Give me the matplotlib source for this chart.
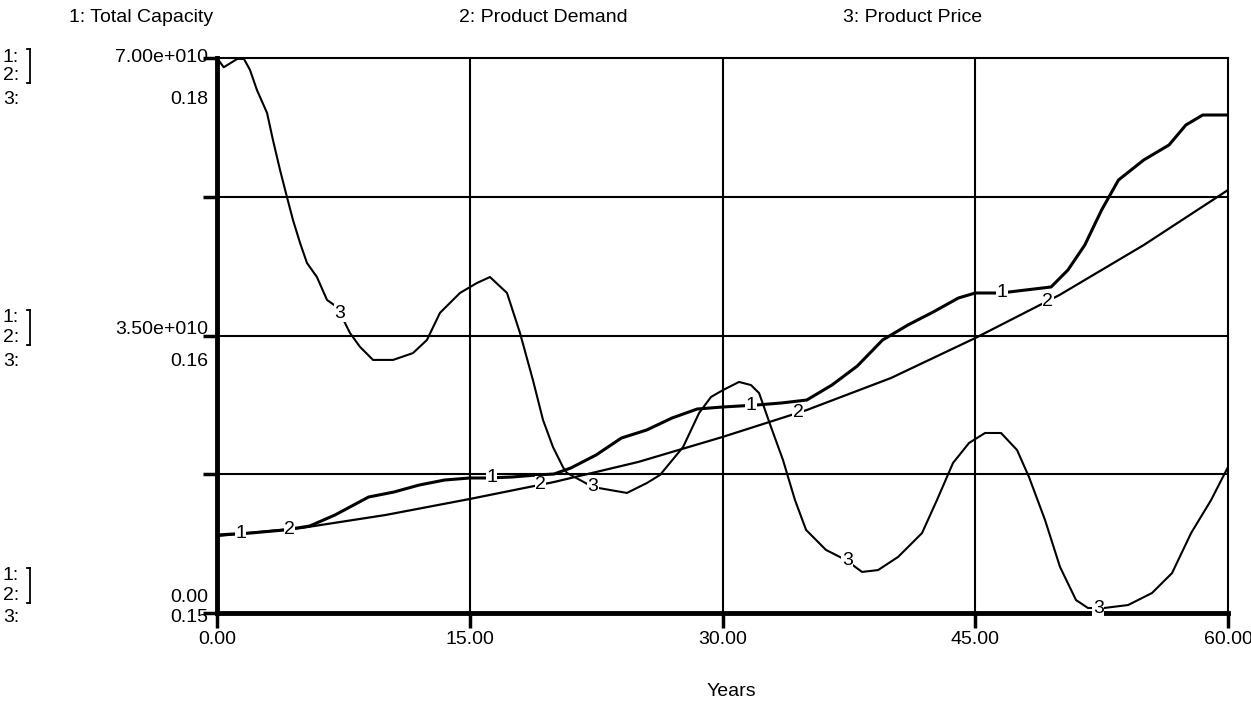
import numpy as np
import matplotlib.pyplot as plt
from matplotlib.lines import Line2D
from matplotlib.transforms import blended_transform_factory

plt.rcParams['font.family'] = ['Liberation Sans', 'DejaVu Sans']

# 1: Total Capacity (units of 1e10)
t_cap = [0, 2, 4, 5.5, 7, 9, 10.5, 12, 13.5, 15, 16, 17.5, 19, 20, 21, 22.5, 24,
         25.5, 27, 28.5, 30, 32, 33.5, 35, 36.5, 38, 39.5, 41, 42.5, 44, 45,
         46.5, 48, 49.5, 50.5, 51.5, 52.5, 53.5, 55, 56.5, 57.5, 58.5, 60]
capacity = [0.984, 1.009, 1.047, 1.097, 1.236, 1.463, 1.526, 1.614, 1.677, 1.703,
            1.703, 1.715, 1.741, 1.753, 1.829, 1.993, 2.207, 2.308, 2.459, 2.573,
            2.598, 2.623, 2.649, 2.686, 2.876, 3.115, 3.443, 3.632, 3.796, 3.973,
            4.036, 4.036, 4.074, 4.112, 4.326, 4.641, 5.083, 5.461, 5.714, 5.903,
            6.155, 6.281, 6.281]

# 2: Product Demand (units of 1e10)
t_dem = [0, 5, 10, 15, 20, 25, 30, 35, 40, 45, 50, 55, 60]
demand = [0.971, 1.072, 1.236, 1.438, 1.652, 1.905, 2.220, 2.560, 2.964, 3.468,
          4.011, 4.641, 5.335]

# 3: Product Price
t_price = [0, 0.4, 1.2, 1.6, 1.96, 2.37, 2.97, 3.32, 3.74, 4.15, 4.51, 4.93, 5.34,
           5.93, 6.53, 7.12, 7.89, 8.49, 9.26, 10.45, 11.63, 12.46, 13.23, 14.42,
           15.43, 16.2, 17.21, 17.98, 18.75, 19.35, 19.94, 20.53, 20.77, 22.31,
           24.33, 25.52, 26.29, 27.66, 28.61, 29.32, 30.03, 30.98, 31.69, 32.17,
           32.88, 33.59, 34.3, 34.96, 36.14, 37.33, 38.28, 39.23, 40.42, 41.84,
           42.73, 43.68, 44.63, 45.58, 46.53, 47.48, 48.19, 49.14, 50.03, 50.98,
           51.69, 52.64, 54.07, 55.49, 56.68, 57.81, 59.0, 60]
price = [0.1800, 0.1795, 0.17995, 0.17995, 0.17935, 0.17827, 0.17703, 0.17557,
         0.17395, 0.17249, 0.17124, 0.17000, 0.16892, 0.16816, 0.16692, 0.16654,
         0.16514, 0.16438, 0.16368, 0.16368, 0.16405, 0.16476, 0.16622, 0.16730,
         0.16784, 0.16816, 0.16730, 0.16514, 0.16259, 0.16043, 0.15897, 0.15789,
         0.15757, 0.15681, 0.15649, 0.15703, 0.15746, 0.15897, 0.16081, 0.16168,
         0.16205, 0.16249, 0.16232, 0.16189, 0.16005, 0.15827, 0.15611, 0.15449,
         0.15341, 0.15286, 0.15222, 0.15232, 0.15303, 0.15432, 0.15611, 0.15811,
         0.15919, 0.15973, 0.15973, 0.15881, 0.15735, 0.15503, 0.15249, 0.15070,
         0.15027, 0.15027, 0.15043, 0.15108, 0.15216, 0.15432, 0.15611, 0.15789]

# where the curve number labels sit
lab_t_cap = [1.4, 16.3, 31.7, 46.6]
lab_t_dem = [4.3, 19.2, 34.5, 49.3]
lab_t_price = [7.3, 22.3, 37.4, 52.3]

legend_names = ['1: Total Capacity', '2: Product Demand', '3: Product Price']
x_ticks = [0, 15, 30, 45, 60]
x_labels = ['0.00', '15.00', '30.00', '45.00', '60.00']
scale_cap = ['7.00e+010', '3.50e+010', '0.00']
scale_price = ['0.18', '0.16', '0.15']

FS = 14
W, H = 1251, 705


def fx(px):
    return px / W


def fy(py):
    return 1 - py / H


def main():
    fig = plt.figure(figsize=(12.51, 7.05), dpi=100)
    ax = fig.add_axes([fx(217), fy(613), 1011 / W, 555 / H])
    ax2 = ax.twinx()

    cap = np.array(capacity) * 1e10
    dem = np.array(demand) * 1e10
    ax.plot(t_cap, cap, color='black', lw=2.2, zorder=3)
    ax.plot(t_dem, dem, color='black', lw=1.6, zorder=3)
    ax2.plot(t_price, price, color='black', lw=1.5, zorder=3)

    ax.set_xlim(0, 60)
    ax.set_ylim(0, 7e10)
    ax2.set_ylim(0.15, 0.18)

    lab_kw = dict(ha='center', va='center', fontsize=FS, zorder=5,
                  bbox=dict(facecolor='white', edgecolor='none', pad=0.3))
    for t in lab_t_cap:
        ax.text(t, np.interp(t, t_cap, cap), '1', **lab_kw)
    for t in lab_t_dem:
        ax.text(t, np.interp(t, t_dem, dem), '2', **lab_kw)
    for t in lab_t_price:
        ax2.text(t, np.interp(t, t_price, price), '3', **lab_kw)

    # grid
    for x in x_ticks[1:-1]:
        ax.axvline(x, color='black', lw=1.5, zorder=1)
    for y in [1.75e10, 3.5e10, 5.25e10]:
        ax.axhline(y, color='black', lw=1.5, zorder=1)

    for s in ['left', 'bottom']:
        ax.spines[s].set_linewidth(3.5)
    for s in ['top', 'right']:
        ax.spines[s].set_linewidth(1.5)
    for s in ax2.spines.values():
        s.set_visible(False)

    ax.set_xticks(x_ticks)
    ax.set_xticklabels(x_labels, fontsize=FS)
    ax.tick_params(axis='x', length=11, width=2.5, pad=2)
    ax.set_yticks([0, 1.75e10, 3.5e10, 5.25e10, 7e10])
    ax.set_yticklabels([])
    ax.tick_params(axis='y', length=10, width=2.5)
    ax2.set_yticks([])
    fig.text(fx(731), fy(692), 'Years', fontsize=FS, ha='center', va='center')

    # left scale labels: (row of 1:, value of 1/2 scale, value of 3 scale)
    rows_y = [(57, 76, 100, 57, 100),
              (318, 338, 361, 329, 361),
              (576, 596, 617, 597, 617)]
    for (y1, y2, y3, yv1, yv3), a, b in zip(rows_y, scale_cap, scale_price):
        fig.text(fx(208), fy(yv1), a, fontsize=FS, ha='right', va='center')
        fig.text(fx(208), fy(yv3), b, fontsize=FS, ha='right', va='center')
        fig.text(fx(3), fy(y1), '1:', fontsize=FS, va='center')
        fig.text(fx(3), fy(y2), '2:', fontsize=FS, va='center')
        fig.text(fx(3), fy(y3), '3:', fontsize=FS, va='center')
        bx = fx(30)
        top, bot = fy(y1 - 8), fy(y2 + 7)
        for xs, ys in [([bx, bx], [top, bot]),
                       ([bx - fx(3), bx], [top, top]),
                       ([bx - fx(3), bx], [bot, bot])]:
            fig.add_artist(Line2D(xs, ys, color='black', lw=1.3,
                                  transform=fig.transFigure))

    # header
    for name, x_right in zip(legend_names, [213, 628, 982]):
        fig.text(fx(x_right), fy(18), name, fontsize=FS, ha='right', va='center')

    fig.savefig('out.png', dpi=100)


if __name__ == '__main__':
    main()
